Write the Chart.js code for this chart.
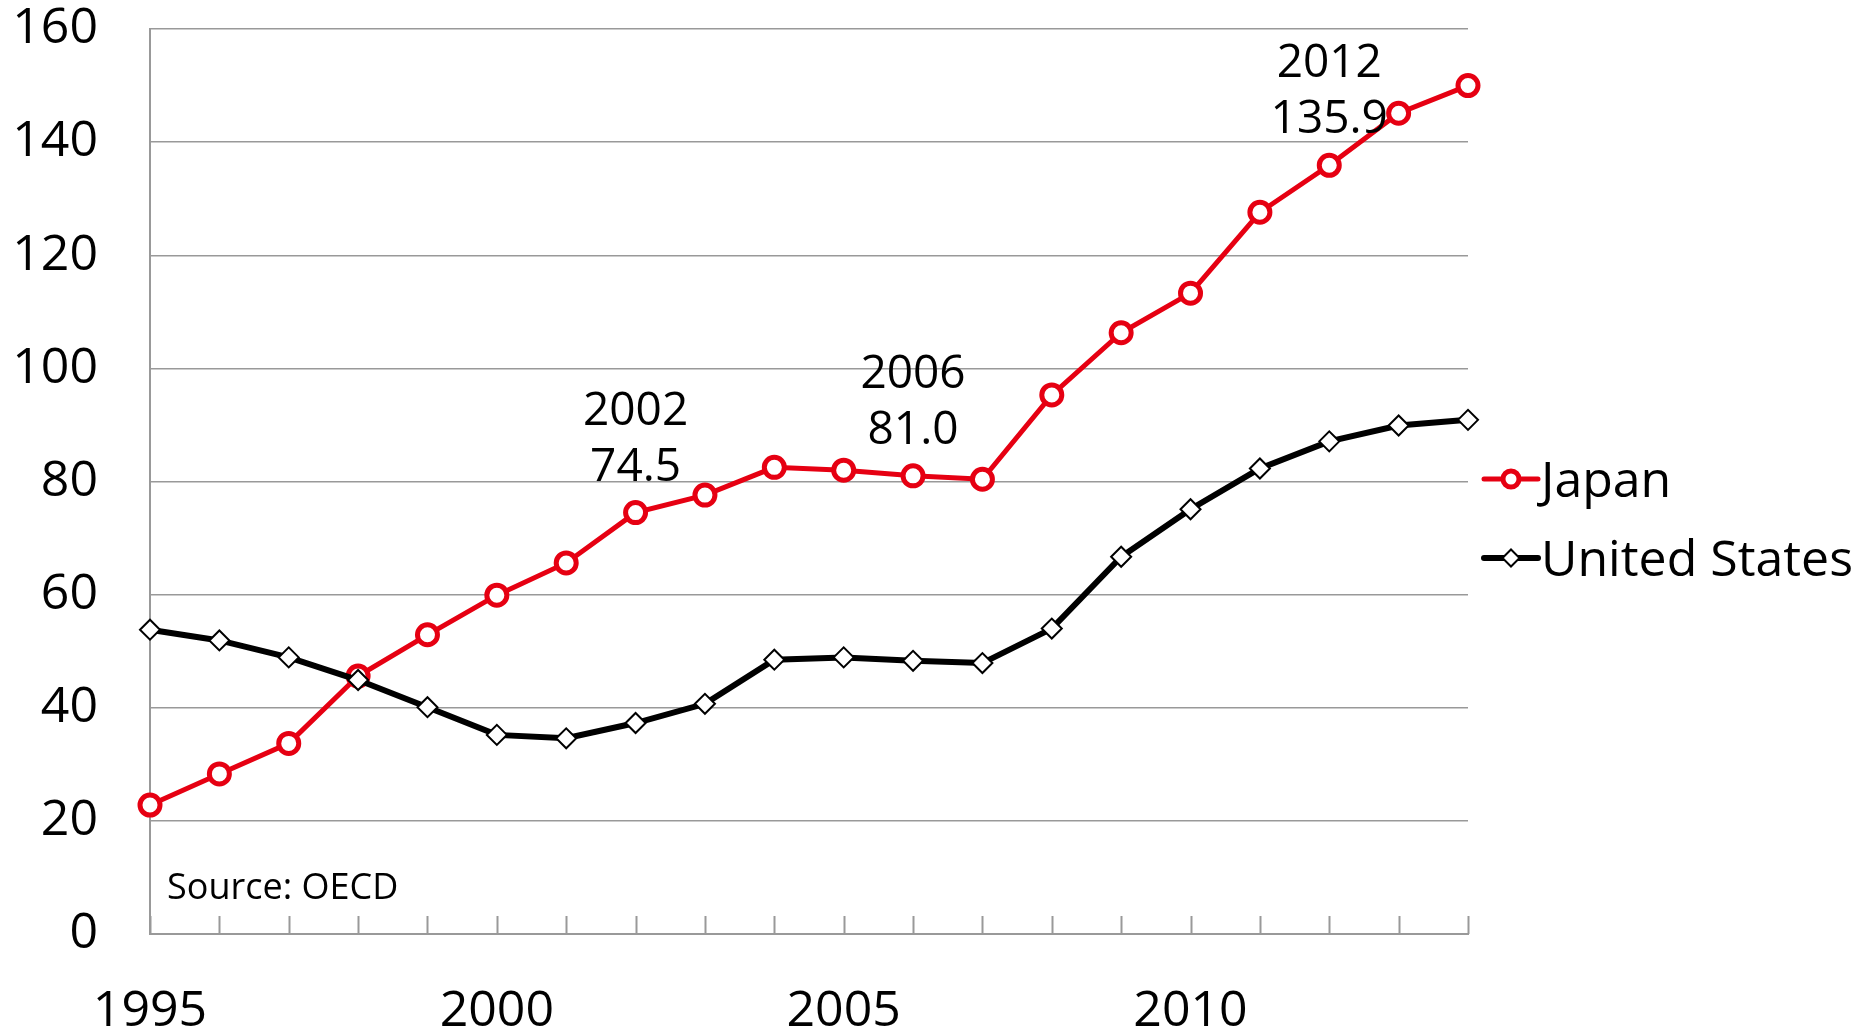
<!DOCTYPE html>
<html><head><meta charset="utf-8">
<script src="https://cdn.jsdelivr.net/npm/chart.js@4.4.0/dist/chart.umd.min.js"></script>
<style>html,body{margin:0;padding:0;background:#fff;}#wrap{width:1870px;height:1029px;}</style>
</head><body><div id="wrap"><canvas id="c" width="1870" height="1029"></canvas></div>
<script>
const years = [1995,1996,1997,1998,1999,2000,2001,2002,2003,2004,2005,2006,2007,2008,2009,2010,2011,2012,2013,2014];
const japan = [22.8,28.3,33.7,45.6,52.9,59.9,65.6,74.5,77.6,82.5,82.0,81.0,80.4,95.3,106.3,113.3,127.6,135.9,145.1,150.0];
const unitedStates = [53.8,51.9,48.9,44.9,40.1,35.2,34.6,37.3,40.7,48.5,48.9,48.3,47.9,54.0,66.7,75.1,82.3,87.1,89.9,90.9];
const xTickLabels = ['1995','2000','2005','2010'];
const yMin = 0, yMax = 160, yStep = 20;
const annotatedYears = [2002, 2006, 2012];
const seriesNames = ['Japan', 'United States'];
const sourceNote = 'Source: OECD';

const RED = '#E60012';
const GRID = '#999999';
const FONT = '"Open Sans", "Liberation Sans", sans-serif';

const extras = {
  id: 'extras',
  afterDatasetsDraw(chart) {
    const ctx = chart.ctx;
    const x = chart.scales.x;
    const area = chart.chartArea;
    ctx.save();
    ctx.strokeStyle = GRID; ctx.lineWidth = 2;
    years.forEach((yr, i) => {
      const px = Math.round(x.getPixelForValue(i)) + 0.5;
      ctx.beginPath(); ctx.moveTo(px, area.bottom); ctx.lineTo(px, area.bottom - 18); ctx.stroke();
    });
    const jMeta = chart.getDatasetMeta(1);
    ctx.fillStyle = '#000';
    ctx.font = '46px ' + FONT;
    ctx.textAlign = 'center'; ctx.textBaseline = 'alphabetic';
    annotatedYears.forEach(yr => {
      const i = years.indexOf(yr);
      const pt = jMeta.data[i];
      ctx.fillText(String(yr), pt.x, pt.y - 88);
      ctx.fillText(japan[i].toFixed(1), pt.x, pt.y - 32);
    });
    ctx.font = '36px ' + FONT;
    ctx.textAlign = 'left';
    ctx.fillText(sourceNote, area.left + 17, area.bottom - 35);
    const lx0 = area.right + 16, lx1 = area.right + 70, lmid = (lx0 + lx1) / 2;
    const items = [
      {name: seriesNames[0], color: RED, lw: 5, style: 'circle', r: 8, bw: 5, ly: 479},
      {name: seriesNames[1], color: '#000', lw: 6, style: 'rectRot', r: 8.5, bw: 2, ly: 558}
    ];
    items.forEach(it => {
      ctx.strokeStyle = it.color; ctx.lineWidth = it.lw; ctx.lineCap = 'round';
      ctx.beginPath(); ctx.moveTo(lx0, it.ly); ctx.lineTo(lx1, it.ly); ctx.stroke();
      ctx.lineCap = 'butt';
      ctx.fillStyle = '#fff'; ctx.strokeStyle = it.color; ctx.lineWidth = it.bw;
      Chart.helpers.drawPoint(ctx, {pointStyle: it.style, radius: it.r, rotation: 0, borderWidth: it.bw}, lmid, it.ly);
      ctx.fillStyle = '#000';
      ctx.font = '50px ' + FONT;
      ctx.textAlign = 'left'; ctx.textBaseline = 'alphabetic';
      ctx.fillText(it.name, lx1 + 3, it.ly + 18);
    });
    ctx.restore();
  }
};

function build() {
  new Chart(document.getElementById('c'), {
    type: 'line',
    data: {
      labels: years.map(String),
      datasets: [
        {
          label: seriesNames[1], data: unitedStates, order: 0,
          borderColor: '#000', borderWidth: 6, tension: 0,
          pointStyle: 'rectRot', pointRadius: 10, pointBorderWidth: 2,
          pointBackgroundColor: '#fff', pointBorderColor: '#000'
        },
        {
          label: seriesNames[0], data: japan, order: 1,
          borderColor: RED, borderWidth: 5, tension: 0,
          pointStyle: 'circle', pointRadius: 10, pointBorderWidth: 5,
          pointBackgroundColor: '#fff', pointBorderColor: RED
        }
      ]
    },
    options: {
      responsive: false, animation: false, devicePixelRatio: 1,
      layout: {padding: {top: 29, right: 402, bottom: 0, left: 0}},
      plugins: {legend: {display: false}, tooltip: {enabled: false}},
      scales: {
        x: {
          type: 'category', offset: false,
          grid: {display: true, drawOnChartArea: false, drawTicks: false},
          border: {display: true, color: GRID, width: 2},
          ticks: {
            autoSkip: false, maxRotation: 0, minRotation: 0, padding: 48,
            color: '#000', font: {family: FONT, size: 50},
            callback: function(v, i) { const s = String(years[i]); return xTickLabels.includes(s) ? s : ''; }
          },
          afterFit: s => { s.height = 95; s.paddingLeft = 0; s.paddingRight = 0; }
        },
        y: {
          min: yMin, max: yMax,
          grid: {color: GRID, lineWidth: 1.5, drawTicks: false},
          border: {display: true, color: GRID, width: 2},
          ticks: {stepSize: yStep, padding: 52, color: '#000', font: {family: FONT, size: 50}},
          afterFit: s => { s.width = 150; s.paddingTop = 0; s.paddingBottom = 0; }
        }
      }
    },
    plugins: [extras]
  });
}
if (document.fonts && document.fonts.load) {
  Promise.all([document.fonts.load('50px "Open Sans"')]).then(build, build);
} else build();
</script>
</body></html>
